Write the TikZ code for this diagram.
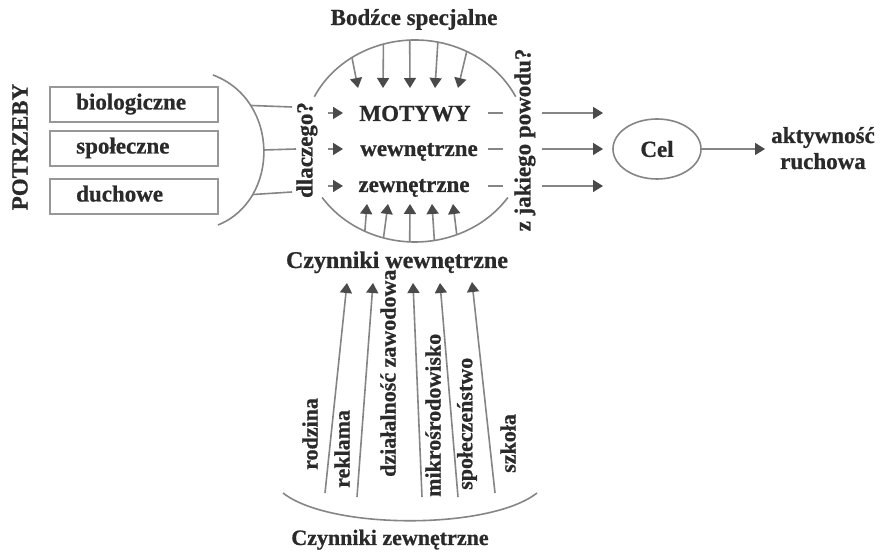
\documentclass[tikz,border=0pt]{standalone}
\usepackage{fontspec}
\setmainfont{Liberation Serif}[BoldFeatures={FakeBold=0.7}]
\usetikzlibrary{arrows.meta,shapes.geometric}
\definecolor{txt}{HTML}{2A2A2A}
\definecolor{lnc}{HTML}{858585}
\definecolor{ahc}{HTML}{4A4A4A}
\begin{document}
\begin{tikzpicture}[x=1pt,y=1pt,
  lbl/.style={font=\fontsize{23}{27}\selectfont\bfseries, text=txt, inner sep=0pt},
  vlbl/.style={font=\fontsize{22}{26}\selectfont\bfseries, text=txt, inner sep=0pt, rotate=90, anchor=west},
  ln/.style={draw=lnc, line width=1.6pt},
  arr/.style={ln, -{Triangle[length=10pt,width=12pt,color=ahc]}},
  needbox/.style={draw=lnc!85, line width=1.3pt, minimum width=168pt, minimum height=35pt, inner sep=0pt},
]
\fill[white] (0,0) rectangle (881,554);
\useasboundingbox (0,0) rectangle (881,554);

% --- left: needs
\node[lbl, rotate=90] (potrz) at (20,407) {POTRZEBY};
\node[needbox] (bio) at (134,449.5) {};
\node[needbox] (spo) at (134,405.5) {};
\node[needbox] (duc) at (134,357.5) {};
\node[lbl, anchor=base west] (tbio) at (76,444.5) {biologiczne};
\node[lbl, anchor=base west] (tspo) at (76,400.5) {społeczne};
\node[lbl, anchor=base west] (tduc) at (76,352.5) {duchowe};

% bracket
\coordinate (brT) at (213,479);
\coordinate (brB) at (218,329);
\draw[ln] (brT) .. controls (280,454) and (280,354) .. (brB)
  coordinate[pos=0.25] (br1) coordinate[pos=0.5] (br2) coordinate[pos=0.75] (br3);

\node[lbl, rotate=90] (dl) at (307,404) {dlaczego?};
\coordinate (dl1) at (292,447);
\coordinate (dl2) at (296,405);
\coordinate (dl3) at (292,362);
\draw[ln] (br1) -- (dl1);
\draw[ln] (br2) -- (dl2);
\draw[ln] (br3) -- (dl3);

% --- motives circle
\node[ellipse, minimum width=224pt, minimum height=202pt, inner sep=0pt] (mot) at (415,413) {};
\draw[ln] (mot.center) ++(154:112 and 101) arc[start angle=154, end angle=26, x radius=112, y radius=101];
\draw[ln] (mot.center) ++(214:112 and 101) arc[start angle=214, end angle=326, x radius=112, y radius=101];

\node[lbl, anchor=base] (bodz) at (414,529) {Bodźce specjalne};
\foreach \a/\x [count=\i] in {127/358, 108/383, 93/410, 77/435, 60/458}{
  \coordinate (tt\i) at (\x,466);
  \draw[arr] (mot.\a) -- (tt\i);
}
\foreach \a/\x [count=\i] in {241/367, 252/388, 267/410, 281/432, 294/453}{
  \coordinate (bt\i) at (\x,350);
  \draw[arr] (mot.\a) -- (bt\i);
}

\node[lbl, anchor=base] (motywy) at (415,433) {MOTYWY};
\node[lbl, anchor=base] (wew) at (419,398) {wewnętrzne};
\node[lbl, anchor=base] (zew) at (414,362) {zewnętrzne};

\foreach \y [count=\i] in {441,405,368}{
  \coordinate (la\i) at (328,\y);
  \coordinate (lb\i) at (343,\y);
  \draw[arr] (la\i) -- (lb\i);
  \coordinate (da\i) at (488,\y);
  \coordinate (db\i) at (503,\y);
  \draw[ln] (da\i) -- (db\i);
  \coordinate (ra\i) at (542,\y);
  \coordinate (rb\i) at (603,\y);
  \draw[arr] (ra\i) -- (rb\i);
}

\node[lbl, rotate=90] (zj) at (525,414) {z jakiego powodu?};

% --- goal
\node[ellipse, ln, lbl, minimum width=88pt, minimum height=60pt] (cel) at (657,405) {Cel};
\coordinate (akt0) at (765,405);
\draw[arr] (cel.east) -- (akt0);
\node[lbl, anchor=base] (akt) at (823,411) {aktywność};
\node[lbl, anchor=base] (ruch) at (823,385) {ruchowa};

% --- factors
\node[lbl, font=\fontsize{24}{28}\selectfont\bfseries, anchor=base] (cw) at (397,286) {Czynniki wewnętrzne};
\coordinate (arcL) at (283,61);
\coordinate (arcR) at (537,61);
\draw[ln] (arcL) .. controls (330,24) and (490,24) .. (arcR);
\node[font=\fontsize{22}{26}\selectfont\bfseries, text=txt, inner sep=0pt, anchor=base] (cz) at (390,9) {Czynniki zewnętrzne};

\foreach \xa/\ya/\xb/\yb [count=\i] in {325/61/347/271, 357/57/373/271, 422/57/413/271, 458/57/440/271, 495/61/472/272}{
  \coordinate (fa\i) at (\xa,\ya);
  \coordinate (fb\i) at (\xb,\yb);
  \draw[arr] (fa\i) -- (fb\i);
}

\node[vlbl] (rodz) at (310,84) {rodzina};
\node[vlbl] (rekl) at (342,66) {reklama};
\node[vlbl] (dzial) at (388,77) {działalność zawodowa};
\node[vlbl] (mikro) at (433,57) {mikrośrodowisko};
\node[vlbl] (spol) at (467,64) {społeczeństwo};
\node[vlbl] (szk) at (508,81) {szkoła};
\end{tikzpicture}
\end{document}
